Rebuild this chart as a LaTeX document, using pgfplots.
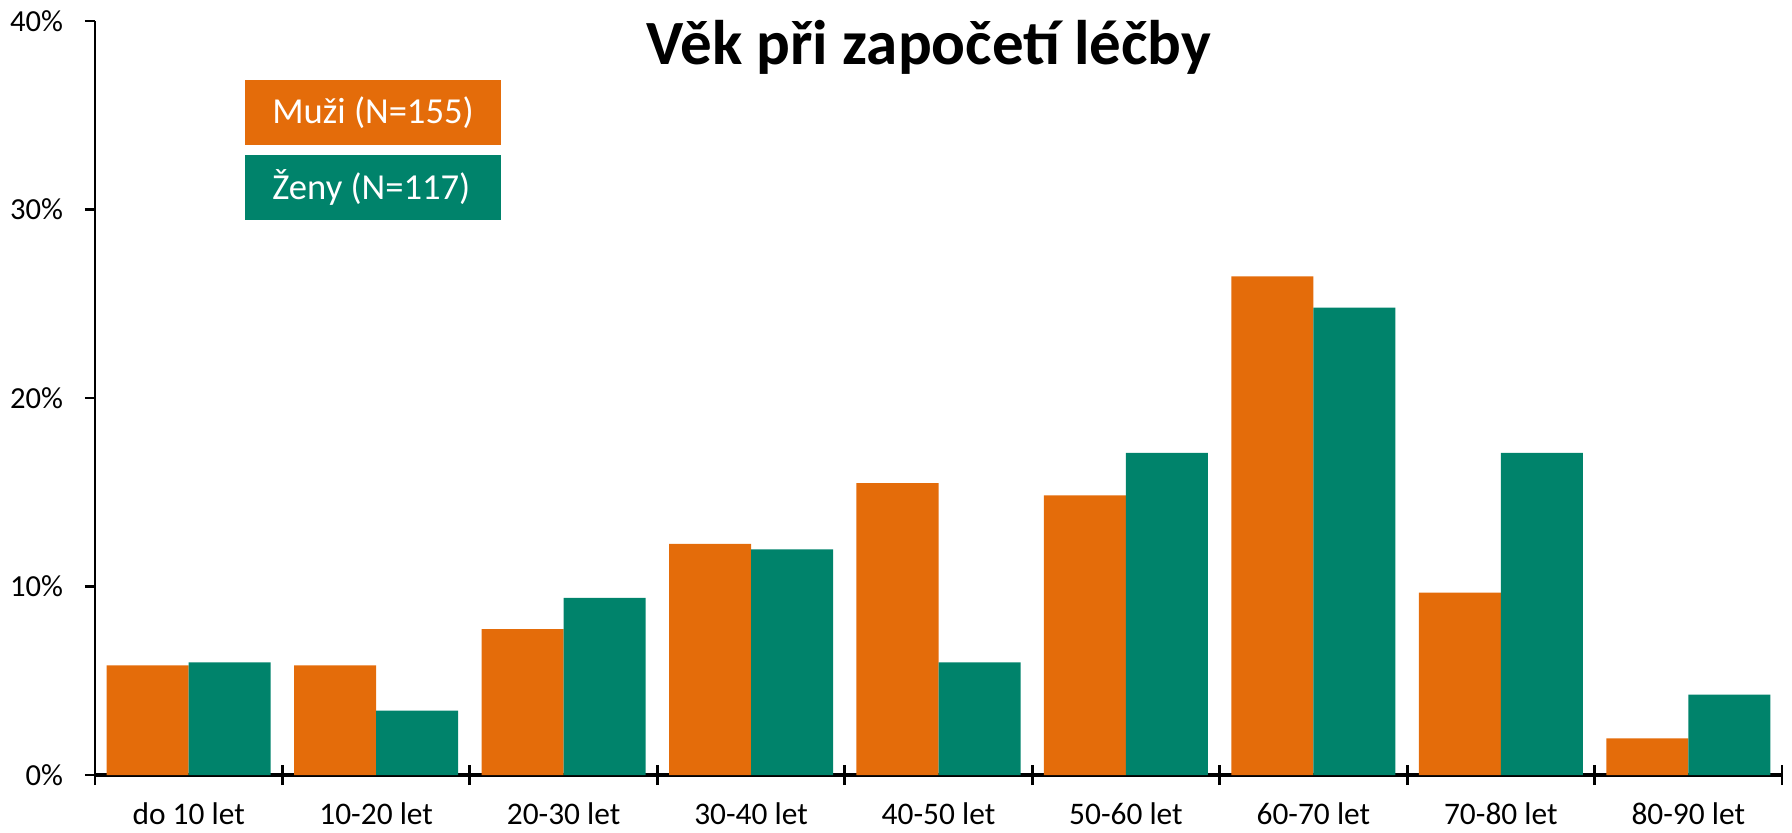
\documentclass[border=0pt]{standalone}
\usepackage{fontspec}
\setmainfont{Carlito}
\usepackage{pgfplots}
\pgfplotsset{compat=1.18}
\definecolor{muzi}{HTML}{E46C0A}
\definecolor{zeny}{HTML}{00836B}
\begin{document}
\begin{tikzpicture}[x=1pt,y=1pt]
\path[use as bounding box] (-47.5,-28.5) rectangle (848.5,387.5);
\begin{axis}[
  at={(0,0)}, anchor=south west,
  scale only axis, width=843.5pt, height=377pt,
  xmin=-0.5, xmax=8.5, ymin=0, ymax=40,
  axis x line*=bottom, axis y line*=left,
  x axis line style={-, line width=1.8pt},
  y axis line style={-, line width=1.4pt},
  ybar, bar width=0.4375,
  ytick={0,10,20,30,40},
  yticklabels={0\%,10\%,20\%,30\%,40\%},
  tick align=outside, major tick length=5pt,
  ytick style={black, line width=1.4pt},
  xtick={0,...,8},
  xticklabels={do 10 let,10-20 let,20-30 let,30-40 let,40-50 let,50-60 let,60-70 let,70-80 let,80-90 let},
  major x tick style=transparent,
  minor xtick={-0.5,0.5,...,8.5},
  minor tick length=10pt,
  minor x tick style={black, line width=1.4pt, yshift=5pt},
  xticklabel style={anchor=base, inner sep=0pt, yshift=-19.5pt, font=\fontsize{15.7}{18}\selectfont},
  yticklabel style={anchor=east, inner sep=0pt, xshift=-10.8pt, font=\fontsize{15.3}{18}\selectfont},
  clip=false,
]
\addplot[fill=muzi, draw=none, bar shift=-0.21875] coordinates {
  (0,5.81) (1,5.81) (2,7.74) (3,12.26) (4,15.48) (5,14.84) (6,26.45) (7,9.68) (8,1.94)};
\addplot[fill=zeny, draw=none, bar shift=0.21875] coordinates {
  (0,5.98) (1,3.42) (2,9.40) (3,11.97) (4,5.98) (5,17.09) (6,24.79) (7,17.09) (8,4.27)};
\end{axis}
\node[anchor=base, font=\fontsize{31.5}{36}\selectfont\bfseries] at (417,355) {Věk při započetí léčby};
\fill[muzi] (75,315) rectangle (203,347.5);
\fill[zeny] (75,277.5) rectangle (203,310);
\node[anchor=west, inner sep=0pt, text=white, font=\fontsize{18.3}{22}\selectfont] at (88.5,331.25) {Muži (N=155)};
\node[anchor=west, inner sep=0pt, text=white, font=\fontsize{18.3}{22}\selectfont] at (88.5,293.75) {Ženy (N=117)};
\end{tikzpicture}
\end{document}
